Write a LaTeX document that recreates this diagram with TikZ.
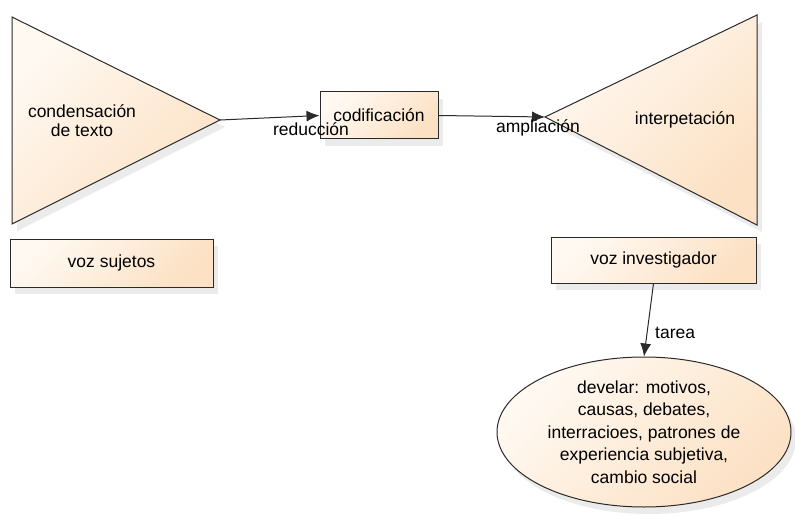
\documentclass[tikz,border=0pt]{standalone}
\usepackage{fontspec}
\setmainfont{Liberation Sans}
\usetikzlibrary{arrows.meta,shadows,shapes.geometric}
\definecolor{peachlight}{HTML}{FFF9F2}
\definecolor{peachdark}{HTML}{FCE1C4}
\definecolor{edge}{HTML}{2A2A2A}
\tikzset{
  shapefill/.style={top color=peachlight, bottom color=peachdark, shading angle=45},
  softshadow/.style={drop shadow={shadow xshift=5pt, shadow yshift=-7pt, opacity=0.16, fill=gray}},
  boxnode/.style={draw=edge, line width=1pt, shapefill, softshadow, inner sep=0pt,
    font=\fontsize{17.5}{21}\selectfont},
  tri/.style={draw=edge, line width=1pt, shapefill, softshadow},
  txt/.style={inner sep=0pt, font=\fontsize{17.5}{19}\selectfont, align=center},
  conn/.style={draw=edge, line width=1pt, -{Latex[length=13pt,width=11pt]}},
}
\begin{document}
\begin{tikzpicture}[x=1pt,y=-1pt]
\useasboundingbox (0,0) rectangle (795,516);
% left triangle
\path[tri] (12,17) -- (220,120) -- (12,224) -- cycle;
\coordinate (ltip) at (220,120);
\node[txt] (cond) at (82,121) {condensación\\de texto};
% right triangle
\path[tri] (757,15) -- (757,225) -- (545,117) -- cycle;
\coordinate (rtip) at (545,117);
\node[txt] (interp) at (685,120) {interpetación};
% boxes
\node[boxnode, minimum width=118pt, minimum height=47pt] (codif) at (379,115.5) {codificación};
\node[boxnode, minimum width=203pt, minimum height=48pt] (vsuj) at (111.5,263) {voz sujetos};
\node[boxnode, minimum width=205pt, minimum height=46pt] (vinv) at (653.5,260) {voz investigador};
% ellipse
\node[ellipse, draw=edge, line width=1pt, shapefill, softshadow, minimum width=294pt, minimum height=150pt, inner sep=0pt,
  align=center, font=\fontsize{17.5}{22.5}\selectfont] (elip) at (644,432)
  {develar: motivos,\\causas, debates,\\interracioes, patrones de\\experiencia subjetiva,\\cambio social};
% connectors
\draw[conn] (ltip) -- (codif.west);
\draw[conn] (codif.east) -- (rtip);
\draw[conn] (vinv.south) -- (elip.north);
% labels
\node[txt] (lred) at (311,129) {reducción};
\node[txt] (lamp) at (538,128) {ampliación};
\node[txt, anchor=west] (ltar) at (655,333) {tarea};
\end{tikzpicture}
\end{document}
